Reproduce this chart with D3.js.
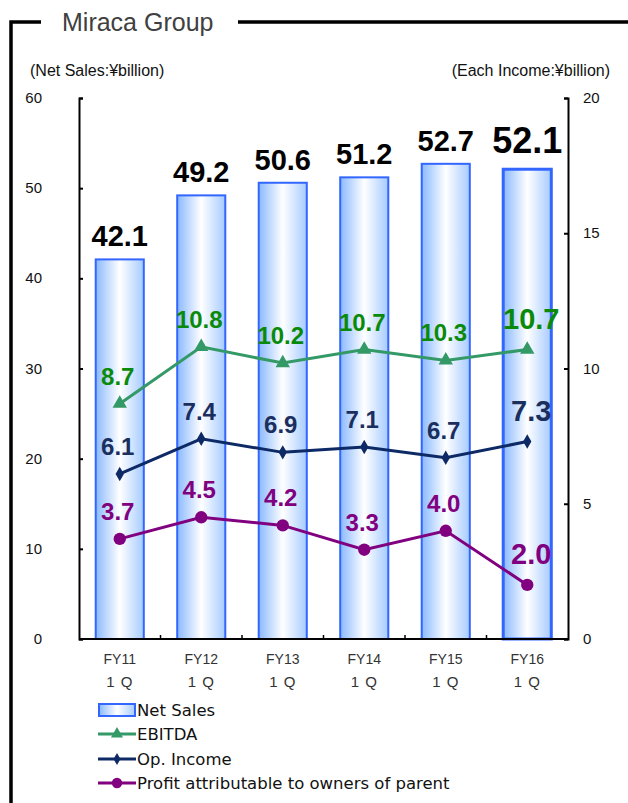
<!DOCTYPE html>
<html>
<head>
<meta charset="UTF-8">
<title>Miraca Group</title>
<script src="https://d3js.org/d3.v7.min.js"></script>
<style>
    body { margin: 0; background: #fff; }
    .tick-label { font: 15px "Liberation Sans", Arial, sans-serif; fill: #111; }
    .cat-label { font: 14px "Liberation Sans", Arial, sans-serif; fill: #333; }
    .narrow { font-family: "Liberation Sans Narrow", "Liberation Sans", Arial, sans-serif; font-stretch: condensed; fill: #333; }
    .legend text { font: 16.5px "DejaVu Sans", Verdana, sans-serif; fill: #111; }
    .val { font-family: "Liberation Sans", Arial, sans-serif; font-weight: bold; text-anchor: middle; }
</style>
</head>
<body>
<svg width="628" height="803"></svg>
<script>
    var categories = ['FY11', 'FY12', 'FY13', 'FY14', 'FY15', 'FY16'];
    var netSales = [42.1, 49.2, 50.6, 51.2, 52.7, 52.1];
    var ebitda   = [8.7, 10.8, 10.2, 10.7, 10.3, 10.7];
    var opIncome = [6.1, 7.4, 6.9, 7.1, 6.7, 7.3];
    var profit   = [3.7, 4.5, 4.2, 3.3, 4.0, 2.0];
    var leftTicks = [0, 10, 20, 30, 40, 50, 60];
    var rightTicks = [0, 5, 10, 15, 20];

    var svg = d3.select('svg');
    var plot = { left: 79, right: 568, top: 98, bottom: 639 };

    var x = d3.scaleBand().domain(categories).range([plot.left, plot.right])
        .paddingInner(0.41).paddingOuter(0.205);
    var yL = d3.scaleLinear().domain([0, 60]).range([plot.bottom, plot.top]);
    var yR = d3.scaleLinear().domain([0, 20]).range([plot.bottom, plot.top]);
    var cx = function (i) { return x(categories[i]) + x.bandwidth() / 2; };

    // frame and title
    svg.append('path')
        .attr('d', 'M11,803 V22 H41 M238,22 H628')
        .attr('fill', 'none').attr('stroke', '#000').attr('stroke-width', 3.5);
    svg.append('text').attr('class', 'narrow').attr('x', 62).attr('y', 31)
        .style('font-size', '25px').style('fill', '#404040').text('Miraca Group');
    svg.append('text').attr('class', 'narrow').attr('x', 30).attr('y', 76)
        .style('font-size', '16px').style('fill', '#111').text('(Net Sales:¥billion)');
    svg.append('text').attr('class', 'narrow').attr('x', 610).attr('y', 76)
        .attr('text-anchor', 'end')
        .style('font-size', '16px').style('fill', '#111').text('(Each Income:¥billion)');

    // gradient for bars
    var defs = svg.append('defs');
    var grad = defs.append('linearGradient').attr('id', 'barGrad')
        .attr('x1', '0%').attr('x2', '100%').attr('y1', '0%').attr('y2', '0%');
    grad.append('stop').attr('offset', '0%').attr('stop-color', '#8ab9ff');
    grad.append('stop').attr('offset', '50%').attr('stop-color', '#ffffff');
    grad.append('stop').attr('offset', '100%').attr('stop-color', '#a6cbff');

    // bars
    svg.append('g').selectAll('rect')
        .data(netSales).enter().append('rect')
        .attr('x', function (d, i) { return x(categories[i]); })
        .attr('y', function (d) { return yL(d); })
        .attr('width', x.bandwidth())
        .attr('height', function (d) { return plot.bottom - yL(d); })
        .attr('fill', 'url(#barGrad)')
        .attr('stroke', '#3366ff')
        .attr('stroke-width', function (d, i) { return i === 5 ? 3 : 2; });

    // axes
    var axisL = svg.append('g').attr('transform', 'translate(' + plot.left + ',0)')
        .call(d3.axisRight(yL).tickValues(leftTicks).tickSize(4).tickSizeOuter(4).tickFormat(''));
    var axisR = svg.append('g').attr('transform', 'translate(' + plot.right + ',0)')
        .call(d3.axisLeft(yR).tickValues(rightTicks).tickSize(4).tickSizeOuter(4).tickFormat(''));
    [axisL, axisR].forEach(function (a) {
        a.selectAll('path, line').attr('stroke', '#000').attr('stroke-width', 2);
    });
    svg.append('g').selectAll('text')
        .data(leftTicks).enter().append('text')
        .attr('class', 'tick-label')
        .attr('x', 42).attr('y', function (d) { return yL(d) + 5; })
        .attr('text-anchor', 'end').text(function (d) { return d; });
    svg.append('g').selectAll('text')
        .data(rightTicks).enter().append('text')
        .attr('class', 'tick-label')
        .attr('x', 583).attr('y', function (d) { return yR(d) + 5; })
        .text(function (d) { return d; });

    // bottom axis with boundary ticks
    var xb = svg.append('g').attr('transform', 'translate(0,' + plot.bottom + ')');
    xb.append('line').attr('x1', plot.left).attr('x2', plot.right)
        .attr('stroke', '#000').attr('stroke-width', 2);
    xb.selectAll('line.b').data(categories.slice(1)).enter().append('line')
        .attr('x1', function (d) { return x(d) - x.step() * x.paddingInner() / 2; })
        .attr('x2', function (d) { return x(d) - x.step() * x.paddingInner() / 2; })
        .attr('y1', 0).attr('y2', -4).attr('stroke', '#000').attr('stroke-width', 1.5);
    var cat = svg.append('g').selectAll('g').data(categories).enter().append('g');
    cat.append('text').attr('class', 'cat-label').attr('text-anchor', 'middle')
        .attr('x', function (d, i) { return cx(i); }).attr('y', 664).text(function (d) { return d; });
    cat.append('text').attr('class', 'cat-label').attr('text-anchor', 'middle')
        .style('font-size', '15px').style('letter-spacing', '1px')
        .attr('x', function (d, i) { return cx(i); }).attr('y', 687).text('1 Q');

    // bar value labels
    svg.append('g').selectAll('text').data(netSales).enter().append('text')
        .attr('class', 'val').attr('fill', '#000')
        .attr('x', function (d, i) { return cx(i); })
        .attr('y', function (d, i) { return yL(d) - (i === 5 ? 16 : 13); })
        .style('font-size', function (d, i) { return i === 5 ? '36px' : '29px'; })
        .text(function (d) { return d.toFixed(1); });

    // line series
    var series = [
        { name: 'EBITDA', values: ebitda, line: '#339966', label: '#0a8a0a', marker: d3.symbolTriangle, size: 90 },
        { name: 'Op. Income', values: opIncome, line: '#0d2a66', label: '#1b2f5e', marker: d3.symbolDiamond, size: 60 },
        { name: 'Profit attributable to owners of parent', values: profit, line: '#800080', label: '#800080', marker: d3.symbolCircle, size: 120 }
    ];
    var line = d3.line().x(function (d, i) { return cx(i); }).y(function (d) { return yR(d); });

    series.forEach(function (s) {
        var g = svg.append('g');
        g.append('path').attr('d', line(s.values))
            .attr('fill', 'none').attr('stroke', s.line).attr('stroke-width', 3);
        g.selectAll('path.m').data(s.values).enter().append('path')
            .attr('transform', function (d, i) { return 'translate(' + cx(i) + ',' + yR(d) + ')'; })
            .attr('d', d3.symbol().type(s.marker).size(s.size))
            .attr('fill', s.line);
        g.selectAll('text').data(s.values).enter().append('text')
            .attr('class', 'val').attr('fill', s.label)
            .attr('x', function (d, i) { return cx(i) + (i === 5 ? 4 : -2); })
            .attr('y', function (d, i) { return yR(d) - (i === 5 ? 21 : 19); })
            .style('font-size', function (d, i) { return i === 5 ? '29px' : '24px'; })
            .text(function (d) { return d.toFixed(1); });
    });

    // legend
    var legend = svg.append('g').attr('class', 'legend');
    var ly = [710, 734, 759, 783];
    legend.append('rect').attr('x', 99).attr('y', ly[0] - 6).attr('width', 36).attr('height', 12)
        .attr('fill', 'url(#barGrad)').attr('stroke', '#3366ff').attr('stroke-width', 2);
    legend.append('text').attr('x', 137).attr('y', ly[0] + 6).text('Net Sales');
    series.forEach(function (s, k) {
        var yy = ly[k + 1];
        legend.append('line').attr('x1', 98).attr('x2', 136).attr('y1', yy).attr('y2', yy)
            .attr('stroke', s.line).attr('stroke-width', 3);
        legend.append('path').attr('transform', 'translate(117,' + yy + ')')
            .attr('d', d3.symbol().type(s.marker).size(s.size * 0.7)).attr('fill', s.line);
        legend.append('text').attr('x', 137).attr('y', yy + 6).text(s.name);
    });
</script>
</body>
</html>
